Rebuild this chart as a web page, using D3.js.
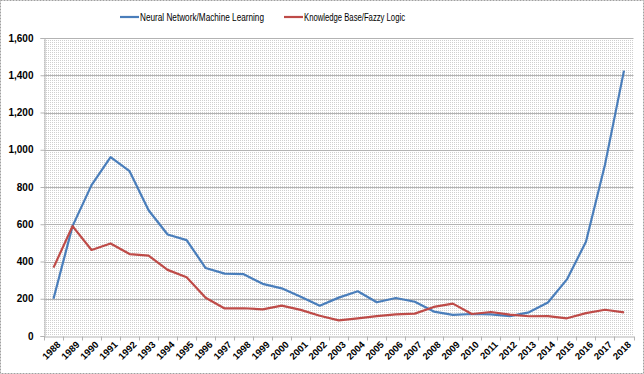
<!DOCTYPE html>
<html>
<head>
<meta charset="utf-8">
<script src="https://cdn.jsdelivr.net/npm/d3@7"></script>
<style>
  body { margin: 0; background: #fff; }
  svg { display: block; font-family: "Liberation Sans", Arial, sans-serif; }
</style>
</head>
<body>
<svg id="chart" width="644" height="374"></svg>
<script>
const width = 644;
const height = 374;

// data
const years = d3.range(1988, 2019).map(String);
const neural = [200, 590, 810, 960, 885, 675, 545, 515, 365, 335, 332, 280, 256, 211, 163, 206,
  240, 181, 204, 184, 131, 113, 118, 116, 107, 127, 180, 304, 506, 920, 1425];
const knowledge = [367, 590, 462, 497, 440, 432, 355, 315, 205, 148, 149, 143, 163, 140, 109, 84,
  95, 107, 116, 120, 156, 174, 118, 129, 115, 106, 107, 95, 123, 141, 127];
const yTicks = [0, 200, 400, 600, 800, 1000, 1200, 1400, 1600];

const series = [
  { name: "Neural Network/Machine Learning", color: "#4a7ebb", values: neural },
  { name: "Knowledge Base/Fazzy Logic", color: "#be4b48", values: knowledge }
];

const svg = d3.select("#chart");

// outer dashed frame
svg.append("rect")
  .attr("x", 0.5).attr("y", 0.5)
  .attr("width", width - 1).attr("height", height - 1)
  .attr("fill", "#fff")
  .attr("stroke", "#a0a0a0")
  .attr("stroke-dasharray", "2,1");

// dotted pattern fill
const defs = svg.append("defs");
const pat = defs.append("pattern")
  .attr("id", "dots")
  .attr("width", 2).attr("height", 2)
  .attr("patternUnits", "userSpaceOnUse");
pat.append("rect").attr("width", 2).attr("height", 2).attr("fill", "#fff");
pat.append("rect").attr("width", 1).attr("height", 1).attr("fill", "#cfcfcf");

const x = d3.scaleBand()
  .domain(years)
  .range([44, 633.5]);

const y = d3.scaleLinear()
  .domain([0, 1600])
  .range([336, 38]);

svg.append("rect")
  .attr("x", x.range()[0]).attr("y", y(1600))
  .attr("width", x.range()[1] - x.range()[0])
  .attr("height", y(0) - y(1600))
  .attr("fill", "url(#dots)");

// gridlines
svg.append("g")
  .selectAll("line")
  .data(yTicks.filter(d => d > 0))
  .join("line")
  .attr("x1", x.range()[0]).attr("x2", x.range()[1])
  .attr("y1", d => Math.round(y(d)) + 0.5).attr("y2", d => Math.round(y(d)) + 0.5)
  .attr("stroke", "#b3b3b3");

// y axis
const yAxis = svg.append("g")
  .attr("transform", `translate(${x.range()[0] + 0.5},0)`)
  .call(d3.axisLeft(y).tickValues(yTicks).tickSize(4).tickPadding(7).tickFormat(d3.format(",")));
yAxis.select(".domain").attr("stroke", "#b3b3b3");
yAxis.selectAll(".tick line").attr("stroke", "#b3b3b3");
yAxis.selectAll("text")
  .attr("font-size", 10)
  .attr("font-weight", "bold")
  .attr("fill", "#000");

// x axis
const xAxis = svg.append("g")
  .attr("transform", `translate(0,${Math.round(y(0)) + 0.5})`)
  .call(d3.axisBottom(x).tickSize(0));
xAxis.select(".domain").attr("stroke", "#b3b3b3");
xAxis.selectAll("text")
  .attr("font-size", 9.5)
  .attr("font-weight", "bold")
  .attr("fill", "#000")
  .attr("text-anchor", "end")
  .attr("x", 0).attr("y", 0)
  .attr("dy", "0.7em")
  .attr("transform", "translate(3,4) rotate(-45)");
// category boundary ticks
xAxis.append("g")
  .selectAll("line")
  .data(years.concat(["end"]))
  .join("line")
  .attr("x1", (d, i) => Math.round(x.range()[0] + i * x.step()) + 0.5)
  .attr("x2", (d, i) => Math.round(x.range()[0] + i * x.step()) + 0.5)
  .attr("y1", 0).attr("y2", 4)
  .attr("stroke", "#b3b3b3");

// lines
const line = d3.line()
  .x((d, i) => x(years[i]) + x.bandwidth() / 2)
  .y(d => y(d));

svg.append("g")
  .selectAll("path")
  .data(series)
  .join("path")
  .attr("d", d => line(d.values))
  .attr("fill", "none")
  .attr("stroke", d => d.color)
  .attr("stroke-width", 2.2)
  .attr("stroke-linejoin", "round");

// legend
const legend = svg.append("g").attr("transform", "translate(0,17)");
const legendX = [120, 284];
const legendW = [124, 101];
const item = legend.selectAll("g")
  .data(series)
  .join("g")
  .attr("transform", (d, i) => `translate(${legendX[i]},0)`);
item.append("line")
  .attr("x1", 0).attr("x2", 19)
  .attr("stroke", d => d.color)
  .attr("stroke-width", 2.2);
item.append("text")
  .attr("x", 20)
  .attr("dy", "0.35em")
  .attr("font-size", 11)
  .attr("fill", "#000")
  .attr("textLength", (d, i) => legendW[i])
  .attr("lengthAdjust", "spacingAndGlyphs")
  .text(d => d.name);
</script>
</body>
</html>
